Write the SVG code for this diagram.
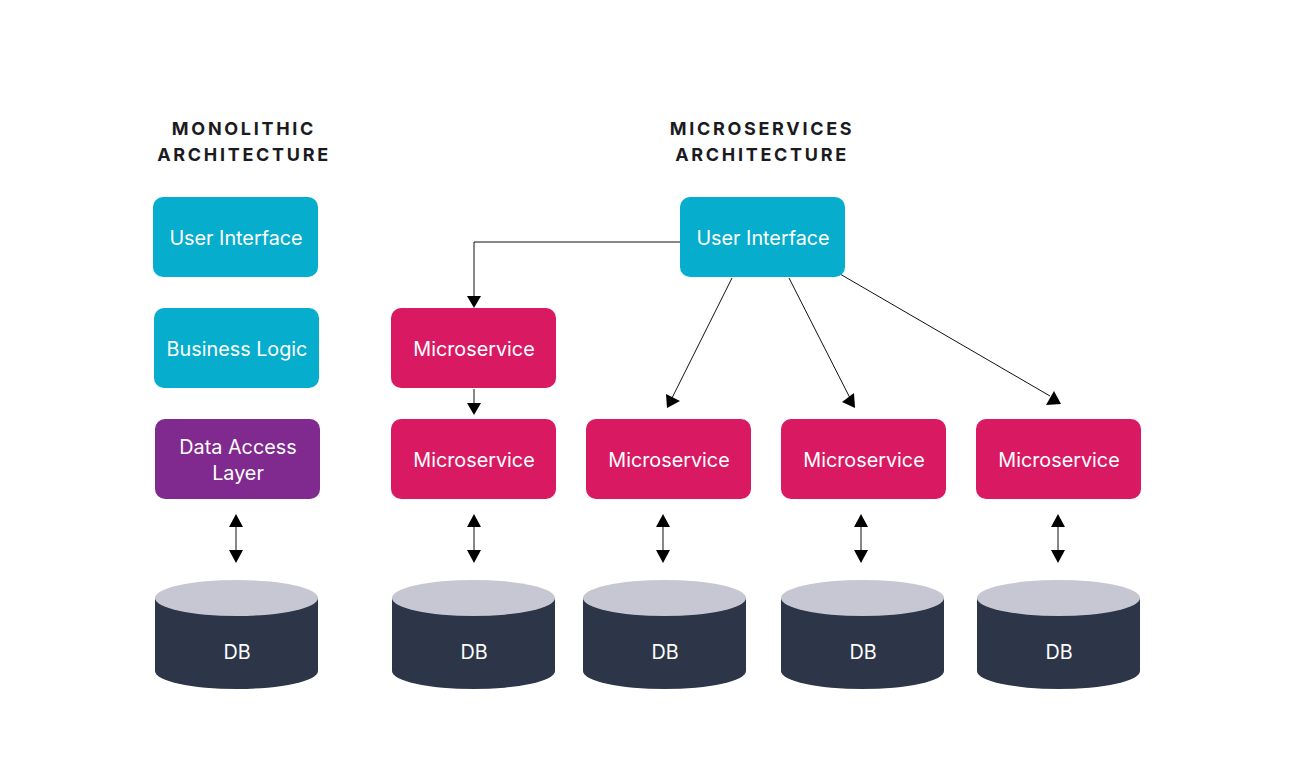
<svg xmlns="http://www.w3.org/2000/svg" width="1289" height="764" viewBox="0 0 1289 764">
<defs>
<style>
.title{font-family:Inter,"Liberation Sans",sans-serif;font-weight:700;font-size:18px;letter-spacing:2.7px;fill:#1b1b1f;text-anchor:middle}
.lbl{font-family:Inter,"Liberation Sans",sans-serif;font-size:19.8px;fill:#ffffff;text-anchor:middle}
.ui{fill:#07adcd}
.dal{fill:#80298f}
.ms{fill:#d91a63}
.line{stroke:#111;stroke-width:1;fill:none}
.head{fill:#000}
.dbtop{fill:#c7c7d3}
.dbbody{fill:#2d3648}
</style>
<g id="dbshape">
<path class="dbbody" d="M0,18 L0,91 A81.5,18 0 0 0 163,91 L163,18 Z"/>
<ellipse class="dbtop" cx="81.5" cy="18" rx="81.5" ry="18"/>
</g>
<g id="dbl">
<line class="line" x1="0" y1="524" x2="0" y2="552"/>
<polygon class="head" points="-7,527 7,527 0,514"/>
<polygon class="head" points="-7,550 7,550 0,563"/>
</g>
</defs>

<text class="title" x="244" y="135">MONOLITHIC</text>
<text class="title" x="244" y="161">ARCHITECTURE</text>
<text class="title" x="762" y="135">MICROSERVICES</text>
<text class="title" x="762" y="161">ARCHITECTURE</text>

<g id="connectors">
<polyline class="line" points="680,242 474,242 474,298"/>
<polygon class="head" points="467,296 481,296 474,308"/>
<line class="line" x1="474" y1="389" x2="474" y2="405"/>
<polygon class="head" points="467,403 481,403 474,415"/>
<line class="line" x1="732" y1="278" x2="672" y2="398"/>
<polygon class="head" points="666,394 680,401 667,408"/>
<line class="line" x1="789" y1="278" x2="850" y2="398"/>
<polygon class="head" points="842,402 854,393 855,408"/>
<line class="line" x1="840" y1="274" x2="1050" y2="396"/>
<polygon class="head" points="1054,391 1061,404 1046,405"/>
<use href="#dbl" x="236"/>
<use href="#dbl" x="474"/>
<use href="#dbl" x="663"/>
<use href="#dbl" x="861"/>
<use href="#dbl" x="1058"/>
</g>

<g id="mono-ui"><rect class="ui" x="153" y="197" width="165" height="80" rx="10"/><text class="lbl" x="236" y="245">User Interface</text></g>
<g id="mono-bl"><rect class="ui" x="154" y="308" width="165" height="80" rx="10"/><text class="lbl" x="237" y="356">Business Logic</text></g>
<g id="mono-dal"><rect class="dal" x="155" y="419" width="165" height="80" rx="10"/><text class="lbl" x="238" y="454">Data Access</text><text class="lbl" x="238" y="480">Layer</text></g>
<g id="mono-db"><use href="#dbshape" x="155" y="580"/><text class="lbl" x="237" y="659">DB</text></g>

<g id="ms-ui"><rect class="ui" x="680" y="197" width="165" height="80" rx="10"/><text class="lbl" x="763" y="245">User Interface</text></g>
<g id="ms-top"><rect class="ms" x="391" y="308" width="165" height="80" rx="10"/><text class="lbl" x="474" y="356">Microservice</text></g>
<g id="ms-1"><rect class="ms" x="391" y="419" width="165" height="80" rx="10"/><text class="lbl" x="474" y="467">Microservice</text></g>
<g id="ms-2"><rect class="ms" x="586" y="419" width="165" height="80" rx="10"/><text class="lbl" x="669" y="467">Microservice</text></g>
<g id="ms-3"><rect class="ms" x="781" y="419" width="165" height="80" rx="10"/><text class="lbl" x="864" y="467">Microservice</text></g>
<g id="ms-4"><rect class="ms" x="976" y="419" width="165" height="80" rx="10"/><text class="lbl" x="1059" y="467">Microservice</text></g>

<g id="db-1"><use href="#dbshape" x="392" y="580"/><text class="lbl" x="474" y="659">DB</text></g>
<g id="db-2"><use href="#dbshape" x="583" y="580"/><text class="lbl" x="665" y="659">DB</text></g>
<g id="db-3"><use href="#dbshape" x="781" y="580"/><text class="lbl" x="863" y="659">DB</text></g>
<g id="db-4"><use href="#dbshape" x="977" y="580"/><text class="lbl" x="1059" y="659">DB</text></g>
</svg>
